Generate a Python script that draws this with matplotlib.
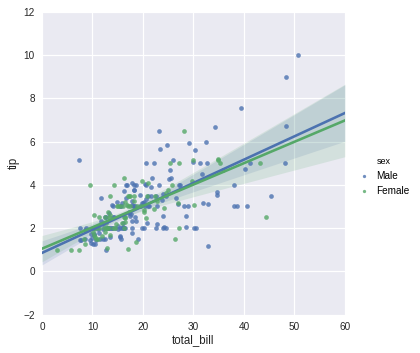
import numpy as np
import matplotlib.pyplot as plt

plt.rcParams['font.family'] = ['Liberation Sans', 'DejaVu Sans']

# tips data, split by sex
male_bill = [10.34, 21.01, 23.68, 25.29, 8.77, 26.88, 15.04, 14.78, 10.27, 15.42,
             18.43, 21.58, 16.29, 20.65, 17.92, 39.42, 19.82, 17.81, 13.37, 12.69,
             21.70, 9.55, 18.35, 17.78, 24.06, 16.31, 18.69, 31.27, 16.04, 17.46,
             13.94, 9.68, 30.40, 18.29, 22.23, 32.40, 28.55, 18.04, 12.54, 9.94,
             25.56, 19.49, 38.01, 11.24, 48.27, 20.29, 13.81, 11.02, 18.29, 17.59,
             20.08, 20.23, 15.01, 12.02, 10.51, 17.92, 27.20, 22.76, 17.29, 19.44,
             16.66, 32.68, 15.98, 13.03, 18.28, 24.71, 21.16, 28.97, 22.49, 40.17,
             27.28, 12.03, 21.01, 12.46, 15.36, 20.49, 25.21, 18.24, 14.00, 38.07,
             23.95, 29.93, 11.69, 14.26, 15.95, 8.52, 22.82, 19.08, 16.00, 34.30,
             41.19, 9.78, 7.51, 14.07, 13.13, 17.26, 24.55, 19.77, 48.17, 16.49,
             21.50, 12.66, 13.81, 24.52, 20.76, 31.71, 50.81, 15.81, 7.25, 31.85,
             16.82, 32.90, 17.89, 14.48, 34.63, 34.65, 23.33, 45.35, 23.17, 40.55,
             20.69, 30.46, 23.10, 15.69, 28.44, 15.48, 16.58, 7.56, 10.34, 13.51,
             18.71, 20.53, 26.59, 38.73, 24.27, 30.06, 25.89, 48.33, 28.15, 11.59,
             7.74, 12.16, 8.58, 13.42, 20.45, 13.28, 24.01, 15.69, 11.61, 10.77,
             15.53, 10.07, 12.60, 32.83, 29.03, 22.67, 17.82]
male_tip = [1.66, 3.50, 3.31, 4.71, 2.00, 3.12, 1.96, 3.23, 1.71, 1.57,
            3.00, 3.92, 3.71, 3.35, 4.08, 7.58, 3.18, 2.34, 2.00, 2.00,
            4.30, 1.45, 2.50, 3.27, 3.60, 2.00, 2.31, 5.00, 2.24, 2.54,
            3.06, 1.32, 5.60, 3.00, 5.00, 6.00, 2.05, 3.00, 2.50, 1.56,
            4.34, 3.51, 3.00, 1.76, 6.73, 3.21, 2.00, 1.98, 3.76, 2.64,
            3.15, 2.01, 2.09, 1.97, 1.25, 3.08, 4.00, 3.00, 2.71, 3.00,
            3.40, 5.00, 2.03, 2.00, 4.00, 5.85, 3.00, 3.00, 3.50, 4.73,
            4.00, 1.50, 3.00, 1.50, 1.64, 4.06, 4.29, 3.76, 3.00, 4.00,
            2.55, 5.07, 2.31, 2.50, 2.00, 1.48, 2.18, 1.50, 2.00, 6.70,
            5.00, 1.73, 2.00, 2.50, 2.00, 2.74, 2.00, 2.00, 5.00, 2.00,
            3.50, 2.50, 2.00, 3.48, 2.24, 4.50, 10.00, 3.16, 5.15, 3.18,
            4.00, 3.11, 2.00, 2.00, 3.55, 3.68, 5.65, 3.50, 6.50, 3.00,
            5.00, 2.00, 4.00, 1.50, 2.56, 2.02, 4.00, 1.44, 2.00, 2.00,
            4.00, 4.00, 3.41, 3.00, 2.03, 2.00, 5.16, 9.00, 3.00, 1.50,
            1.44, 2.20, 1.92, 1.58, 3.00, 2.72, 2.00, 3.00, 3.39, 1.47,
            3.00, 1.25, 1.00, 1.17, 5.92, 2.00, 1.75]
female_bill = [16.99, 24.59, 35.26, 14.83, 10.33, 16.97, 20.29, 15.77, 19.65, 15.06,
               20.69, 16.93, 10.29, 34.81, 26.41, 16.45, 3.07, 17.07, 26.86, 25.28,
               14.73, 10.07, 34.83, 5.75, 16.32, 22.75, 11.35, 15.38, 44.30, 22.42,
               20.92, 14.31, 7.25, 25.71, 17.31, 10.65, 12.43, 24.08, 13.42, 12.48,
               29.80, 14.52, 11.38, 20.27, 11.17, 12.26, 18.26, 8.51, 10.33, 14.15,
               13.16, 17.47, 27.05, 16.43, 8.35, 18.64, 11.87, 29.85, 25.00, 13.39,
               16.21, 17.51, 10.59, 10.63, 9.60, 20.90, 18.15, 19.81, 43.11, 13.00,
               12.74, 13.00, 16.40, 16.47, 12.76, 13.27, 28.17, 12.90, 30.14, 13.42,
               15.98, 16.27, 10.09, 22.12, 35.83, 27.18, 18.78]
female_tip = [1.01, 3.61, 5.00, 3.02, 1.67, 3.50, 2.75, 2.23, 3.00, 3.00,
              2.45, 3.07, 2.60, 5.20, 1.50, 2.47, 1.00, 3.00, 3.14, 5.00,
              2.20, 1.83, 5.17, 1.00, 4.30, 3.25, 2.50, 3.00, 2.50, 3.48,
              4.08, 4.00, 1.00, 4.00, 3.50, 1.50, 1.80, 2.92, 1.68, 2.52,
              4.20, 2.00, 2.00, 2.83, 1.50, 2.00, 3.25, 1.25, 2.00, 2.00,
              2.75, 3.50, 5.00, 2.30, 1.50, 1.36, 1.63, 5.14, 3.75, 2.61,
              2.00, 3.00, 1.61, 2.00, 4.00, 3.50, 3.50, 4.19, 5.00, 2.00,
              2.01, 2.00, 2.50, 3.23, 2.23, 2.50, 6.50, 1.10, 3.09, 3.48,
              3.00, 2.50, 2.00, 2.88, 4.67, 2.00, 3.00]

groups = ["Male", "Female"]
data = {"Male": (male_bill, male_tip), "Female": (female_bill, female_tip)}
colors = {"Male": "#4C72B0", "Female": "#55A868"}

fig = plt.figure(figsize=(420 / 72, 353 / 72), dpi=72)
ax = fig.add_axes([0.1, 0.109, 0.721, 0.857])
ax.set_facecolor("#EAEAF2")
ax.grid(True, color="white", linewidth=1.2)
ax.set_axisbelow(True)
for sp in ax.spines.values():
    sp.set_visible(False)
ax.tick_params(length=0, labelsize=10, pad=7, labelcolor="#262626")

grid = np.linspace(0, 60, 100)
handles = []
for g in groups:
    x = np.array(data[g][0])
    y = np.array(data[g][1])
    c = colors[g]
    h = ax.scatter(x, y, s=22, color=c, alpha=0.8, linewidths=0, zorder=2)
    handles.append(h)
    # OLS fit; robust (HC3) band, close to a pairs-bootstrap 95% CI
    X = np.column_stack([np.ones_like(x), x])
    beta, *_ = np.linalg.lstsq(X, y, rcond=None)
    resid = y - X @ beta
    XtXi = np.linalg.inv(X.T @ X)
    hat = np.einsum("ij,jk,ik->i", X, XtXi, X)
    w = (resid / (1 - hat)) ** 2
    cov = XtXi @ (X.T * w) @ X @ XtXi
    G = np.column_stack([np.ones_like(grid), grid])
    yhat = G @ beta
    se = np.sqrt(np.einsum("ij,jk,ik->i", G, cov, G))
    ax.fill_between(grid, yhat - 1.96 * se, yhat + 1.96 * se, color=c, alpha=0.15,
                    linewidth=0, zorder=1)
    ax.plot(grid, yhat, color=c, linewidth=2.6, zorder=3)

ax.set_xlim(0, 60)
ax.set_ylim(-2, 12)
ax.set_xticks(range(0, 61, 10))
ax.set_yticks(range(-2, 13, 2))
ax.set_xlabel("total_bill", fontsize=11.5, color="#262626", labelpad=3)
ax.set_ylabel("tip", fontsize=11.5, color="#262626", labelpad=4)

fig.legend(handles, groups, title="sex", loc="center left",
           bbox_to_anchor=(0.835, 0.5), frameon=False, fontsize=10,
           title_fontsize=9, handletextpad=0.6, handlelength=1.2,
           markerscale=0.7, borderpad=0.2, labelspacing=0.45)

fig.savefig("out.png", dpi=72)
